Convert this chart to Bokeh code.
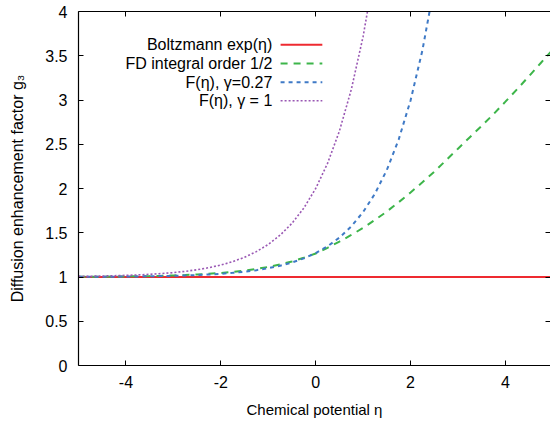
from bokeh.plotting import figure
from bokeh.models import Range1d, LinearAxis, FixedTicker, CustomJSTickFormatter, Label
from bokeh.embed import file_html
from bokeh.resources import INLINE

# ---------------- data ----------------
eta = [-5.0, -4.75, -4.5, -4.25, -4.0, -3.75, -3.5, -3.25, -3.0, -2.75,
       -2.5, -2.25, -2.0, -1.75, -1.5, -1.25, -1.0, -0.75, -0.5, -0.25,
       0.0, 0.25, 0.5, 0.75, 1.0, 1.25, 1.5, 1.75, 2.0, 2.25,
       2.5, 2.75, 3.0, 3.25, 3.5, 3.75, 4.0, 4.25, 4.5, 4.75, 5.0]

boltzmann = [1.0] * len(eta)

fd_half = [1.0024, 1.0031, 1.0039, 1.0050, 1.0064, 1.0082, 1.0106, 1.0135, 1.0172, 1.0220,
           1.0281, 1.0358, 1.0455, 1.0578, 1.0728, 1.0914, 1.114, 1.142, 1.176, 1.217,
           1.265, 1.330, 1.400, 1.475, 1.555, 1.645, 1.740, 1.845, 1.955, 2.070,
           2.190, 2.320, 2.450, 2.580, 2.708, 2.841, 2.981, 3.124, 3.271, 3.421, 3.570]

eta_g027 = eta[:31]
f_g027 = [1.0018, 1.0023, 1.0030, 1.0039, 1.0049, 1.0064, 1.0082, 1.0105, 1.0134, 1.0173,
          1.0222, 1.0285, 1.0365, 1.0469, 1.0602, 1.0774, 1.0993, 1.1275, 1.1638, 1.2103,
          1.270, 1.3467, 1.4452, 1.5716, 1.7339, 1.9424, 2.2101, 2.5537, 2.9951, 3.5617,
          4.2893]

eta_g1 = eta[:26]
f_g1 = [1.0067, 1.0087, 1.0111, 1.0143, 1.0183, 1.0235, 1.0302, 1.0388, 1.0498, 1.0639,
        1.0821, 1.1054, 1.1353, 1.1738, 1.2231, 1.2865, 1.3679, 1.4724, 1.6065, 1.7788,
        2.000, 2.2840, 2.6487, 3.1170, 3.7183, 4.4903]

labels = ["Boltzmann exp(\u03b7)", "FD integral order 1/2",
          "F(\u03b7), \u03b3=0.27", "F(\u03b7), \u03b3 = 1"]

x_ticks = [-4, -2, 0, 2, 4]
y_ticks = [0, 0.5, 1, 1.5, 2, 2.5, 3, 3.5, 4]

# ---------------- styles ----------------
FONT = "Liberation Sans"
colors = ["#ee2a30", "#3db54a", "#3f7ac6", "#9a58b4"]
dashes = ["solid", "7 6", "4 4", "2 2"]
widths = [2, 2, 2, 1.6]

p = figure(width=550, height=424, output_backend="svg", toolbar_location=None,
           x_range=Range1d(-5, 4.95), y_range=Range1d(0, 4),
           min_border_left=78, min_border_right=0, min_border_top=11,
           min_border_bottom=59)
p.outline_line_color = None
p.xgrid.visible = False
p.ygrid.visible = False
p.background_fill_color = "white"
p.border_fill_color = "white"

fmt = CustomJSTickFormatter(code="return tick.toString();")

def style_axis(ax, ticks, show_labels=True, line=True):
    ax.ticker = FixedTicker(ticks=ticks)
    ax.formatter = fmt
    ax.major_tick_in = 5
    ax.major_tick_out = 0
    ax.minor_tick_line_color = None
    ax.major_tick_line_color = "black"
    ax.axis_line_color = "black" if line else None
    ax.axis_line_width = 1.2
    ax.major_label_text_font = FONT
    if show_labels:
        ax.major_label_text_font_size = "16px"
        ax.major_label_text_color = "black"
    else:
        # mirrored ticks only (gnuplot style), no labels drawn
        ax.major_label_text_font_size = "1px"
        ax.major_label_text_color = None
        ax.major_label_standoff = 0

style_axis(p.xaxis[0], x_ticks)
style_axis(p.yaxis[0], y_ticks)
p.xaxis[0].major_label_standoff = 10
p.yaxis[0].major_label_standoff = 11
p.xaxis.axis_label = "Chemical potential \u03b7"
p.yaxis.axis_label = "Diffusion enhancement factor g\u2083"
for ax in (p.xaxis[0], p.yaxis[0]):
    ax.axis_label_text_font = FONT
    ax.axis_label_text_font_style = "normal"
    ax.axis_label_text_color = "black"
p.xaxis[0].axis_label_text_font_size = "15px"
p.yaxis[0].axis_label_text_font_size = "16px"
p.xaxis[0].axis_label_standoff = 10
p.yaxis[0].axis_label_standoff = 16

top = LinearAxis()
style_axis(top, x_ticks, show_labels=False)
p.add_layout(top, "above")
right = LinearAxis()
style_axis(right, y_ticks, show_labels=False, line=False)
p.add_layout(right, "right")

series = [(eta, boltzmann), (eta, fd_half), (eta_g027, f_g027), (eta_g1, f_g1)]
for (xs, ys), c, d, w in zip(series, colors, dashes, widths):
    p.line(xs, ys, line_color=c, line_width=w, line_dash=d)

# ---------------- key (gnuplot style: text left, sample right) ----------------
key_text_x = -0.915
key_line_x = [-0.74, 0.14]
key_y = [3.624, 3.413, 3.201, 2.991]
for lab, ky, c, d, w in zip(labels, key_y, colors, dashes, widths):
    p.add_layout(Label(x=key_text_x, y=ky, text=lab, text_align="right",
                       text_baseline="middle", text_font=FONT,
                       text_font_size="16px", text_color="black"))
    p.line(key_line_x, [ky, ky], line_color=c, line_width=w, line_dash=d)

open("out.html", "w").write(file_html(p, INLINE))
